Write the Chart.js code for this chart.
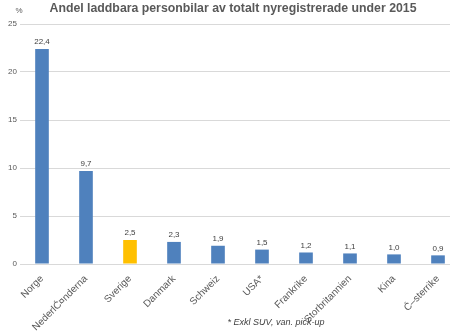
<!DOCTYPE html>
<html>
<head>
  <title>Andel laddbara personbilar</title>
  <script src="https://cdn.jsdelivr.net/npm/chart.js"></script>
  <style>
    html, body { margin: 0; padding: 0; background: #fff; overflow: hidden; width: 450px; height: 332px; }
    #wrap { position: absolute; left: 0; top: 0; width: 460px; height: 332px; }
  </style>
</head>
<body>
<div id="wrap"><canvas id="salesChart"></canvas></div>
<script>
  // data
  const countries = ['Norge', 'Nederländerna', 'Sverige', 'Danmark', 'Schweiz', 'USA*', 'Frankrike', 'Storbritannien', 'Kina', 'Österrike'];
  const shares = [22.4, 9.7, 2.5, 2.3, 1.9, 1.5, 1.2, 1.1, 1.0, 0.9];
  const yTicks = [0, 5, 10, 15, 20, 25];
  const titleText = 'Andel laddbara personbilar av totalt nyregistrerade under 2015';
  const footnote = '* Exkl SUV, van. pick-up';

  const FONT = '"Liberation Sans", Arial, sans-serif';
  const blue = '#4f81bd';
  const yellow = '#ffc000';
  const barColors = countries.map(c => c === 'Sverige' ? yellow : blue);

  // etiketter + titel
  const extras = {
    id: 'extras',
    afterDatasetsDraw(chart) {
      const ctx = chart.ctx;
      const meta = chart.getDatasetMeta(0);
      ctx.save();
      ctx.fillStyle = '#404040';
      ctx.font = '8px ' + FONT;
      ctx.textAlign = 'center';
      ctx.textBaseline = 'bottom';
      meta.data.forEach((bar, i) => {
        ctx.fillText(shares[i].toFixed(1).replace('.', ','), bar.x, bar.y - 3);
      });

      ctx.fillStyle = '#595959';
      ctx.font = 'bold 12.3px ' + FONT;
      ctx.textBaseline = 'middle';
      ctx.fillText(titleText, 233, 9);

      ctx.font = '8px ' + FONT;
      ctx.fillText('%', 19, 11);

      ctx.fillStyle = '#404040';
      ctx.font = 'italic 9px ' + FONT;
      ctx.fillText(footnote, 276, 322);
      ctx.restore();
    }
  };

  new Chart(document.getElementById('salesChart'), {
    type: 'bar',
    data: {
      labels: countries,
      datasets: [{
        data: shares,
        backgroundColor: barColors,
        categoryPercentage: 1,
        barPercentage: 0.31
      }]
    },
    options: {
      responsive: true,
      maintainAspectRatio: false,
      animation: false,
      layout: { padding: { top: 24, right: 0, bottom: 0, left: 0 } },
      plugins: { legend: { display: false }, tooltip: { enabled: false } },
      scales: {
        x: {
          grid: { display: false },
          border: { display: false },
          ticks: {
            color: '#595959',
            font: { family: FONT, size: 10 },
            minRotation: 45,
            maxRotation: 45,
            padding: 1
          },
          afterFit(scale) { scale.height = 68; }
        },
        y: {
          min: 0,
          max: 25,
          afterBuildTicks(scale) { scale.ticks = yTicks.map(v => ({ value: v })); },
          grid: { color: '#d9d9d9', drawTicks: false },
          border: { display: false },
          ticks: {
            color: '#595959',
            font: { family: FONT, size: 8 },
            padding: 3
          },
          afterFit(scale) { scale.width = 20; }
        }
      }
    },
    plugins: [extras]
  });
</script>
</body>
</html>
